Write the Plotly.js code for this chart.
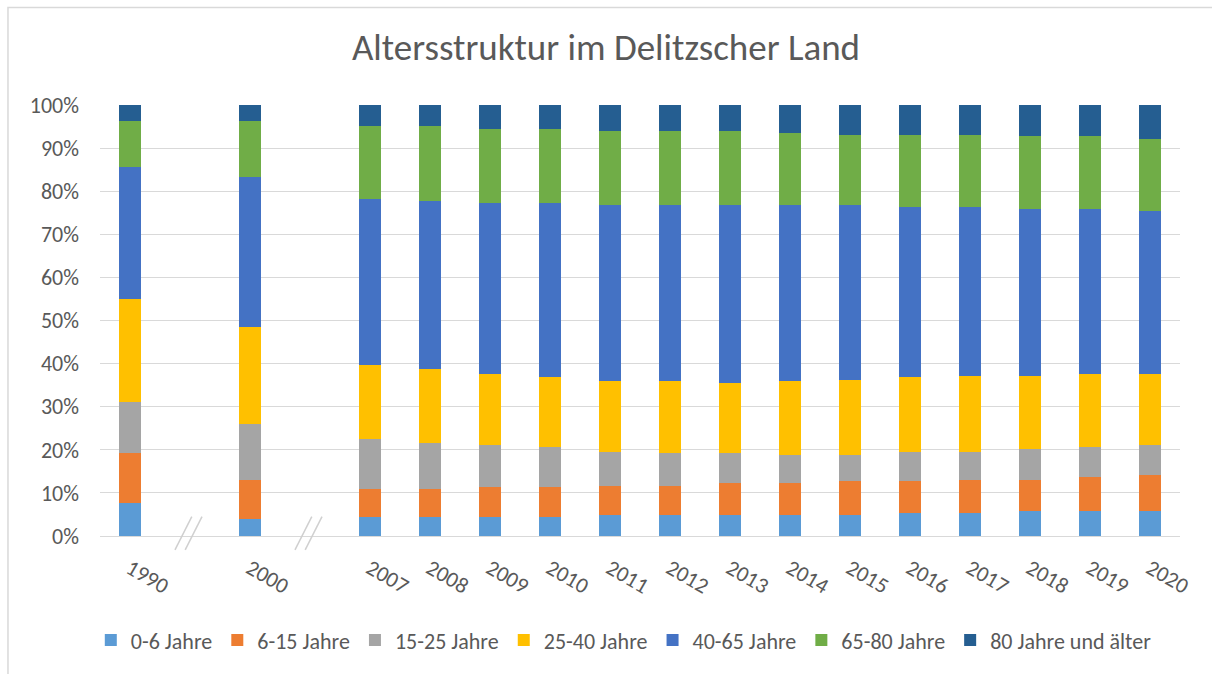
<!DOCTYPE html>
<html>
<head>
<meta charset="utf-8">
<script src="https://cdn.plot.ly/plotly-3.0.1.min.js"></script>
<style>
  html, body { margin: 0; padding: 0; background: #ffffff; }
  #chart { width: 1212px; height: 674px; }
</style>
</head>
<body>
<div id="chart"></div>
<script>
// ---- data (shares in %) ----
const categories = ['1990','2000','2007','2008','2009','2010','2011','2012','2013','2014','2015','2016','2017','2018','2019','2020'];
const breaksAfter = ['1990','2000'];   // axis breaks ("//") after these years

const seriesNames = ['0-6 Jahre','6-15 Jahre','15-25 Jahre','25-40 Jahre','40-65 Jahre','65-80 Jahre','80 Jahre und älter'];
const seriesColors = ['#5B9BD5','#ED7D31','#A5A5A5','#FFC000','#4472C4','#70AD47','#255E91'];

const age0_6   = [7.6, 3.9, 4.3, 4.3, 4.3, 4.3, 4.8, 4.8, 4.8, 4.8, 4.8, 5.3, 5.3, 5.7, 5.7, 5.7];
const age6_15  = [11.6, 9.2, 6.5, 6.5, 7.0, 7.0, 6.9, 6.9, 7.4, 7.4, 7.9, 7.4, 7.8, 7.4, 7.9, 8.4];
const age15_25 = [11.9, 13.0, 11.6, 10.7, 9.7, 9.3, 7.9, 7.5, 7.0, 6.5, 6.0, 6.9, 6.5, 7.0, 7.0, 6.9];
const age25_40 = [23.8, 22.3, 17.2, 17.2, 16.7, 16.2, 16.3, 16.7, 16.2, 17.2, 17.6, 17.2, 17.6, 17.1, 17.1, 16.7];
const age40_65 = [30.7, 34.9, 38.6, 39.0, 39.6, 40.5, 40.9, 40.9, 41.4, 40.9, 40.5, 39.6, 39.2, 38.7, 38.2, 37.7];
const age65_80 = [10.7, 13.0, 16.9, 17.4, 17.2, 17.2, 17.2, 17.2, 17.2, 16.8, 16.3, 16.7, 16.7, 16.8, 16.8, 16.8];
const age80p   = [3.7, 3.7, 4.9, 4.9, 5.5, 5.5, 6.0, 6.0, 6.0, 6.4, 6.9, 6.9, 6.9, 7.3, 7.3, 7.8];

const seriesValues = [age0_6, age6_15, age15_25, age25_40, age40_65, age65_80, age80p];

// ---- build axis slots (empty slots where the axis is broken) ----
const slots = [];
const breakSlots = [];
categories.forEach(c => {
  slots.push(c);
  if (breaksAfter.includes(c)) {
    const id = 'break_' + c;
    slots.push(id);
    breakSlots.push(id);
  }
});

const FONT = 'Calibri, Carlito, Lato, "Open Sans", sans-serif';
const TXT = '#595959';

const traces = seriesNames.map((name, i) => ({
  type: 'bar',
  name: name,
  x: categories,
  y: seriesValues[i],
  marker: { color: seriesColors[i], line: { width: 0 } },
  hoverinfo: 'x+y+name'
}));

// break marks "//" under the axis at the empty slots
const shapes = [];
breakSlots.forEach(id => {
  const idx = slots.indexOf(id);
  [[0.03, -0.25], [0.20, -0.08]].forEach(([top, bot]) => {
    shapes.push({
      type: 'line', xref: 'x', yref: 'paper',
      x0: idx + top, y0: 0.045, x1: idx + bot, y1: -0.032,
      line: { color: '#D0D0D0', width: 1.5 }
    });
  });
});
// chart-area border
shapes.push({
  type: 'rect', xref: 'paper', yref: 'paper',
  x0: -0.0852, x1: 1.05, y0: -0.5, y1: 1.226,
  line: { color: '#D9D9D9', width: 1.5 }, fillcolor: 'rgba(0,0,0,0)', layer: 'below'
});

const layout = {
  width: 1212, height: 674,
  margin: { l: 100, r: 32, t: 105, b: 138 },
  paper_bgcolor: '#ffffff', plot_bgcolor: '#ffffff',
  font: { family: FONT, color: TXT, size: 21 },
  title: {
    text: 'Altersstruktur im Delitzscher Land',
    x: 0.5, xref: 'container', xanchor: 'center',
    y: 0.93, yref: 'container', yanchor: 'middle',
    font: { family: FONT, size: 37, color: TXT }
  },
  barmode: 'stack',
  barnorm: 'percent',
  bargap: 0.63,
  showlegend: true,
  legend: {
    orientation: 'h', x: 0.485, xanchor: 'center', y: -0.242, yanchor: 'middle',
    font: { family: FONT, size: 22, color: TXT },
    traceorder: 'normal', itemwidth: 30
  },
  xaxis: {
    type: 'category',
    categoryorder: 'array', categoryarray: slots,
    range: [-0.5, slots.length - 0.5],
    tickmode: 'array', tickvals: categories, ticktext: categories,
    tickangle: 30,
    ticks: '', showgrid: false, ticklabelstandoff: 10,
    showline: true, linecolor: '#D9D9D9', linewidth: 1,
    tickfont: { family: FONT, size: 22, color: TXT },
    fixedrange: true
  },
  yaxis: {
    range: [0, 100], dtick: 10, ticksuffix: '%',
    showgrid: true, gridcolor: '#D9D9D9', gridwidth: 1,
    zeroline: false, showline: false, ticks: '', ticklabelstandoff: 20,
    tickfont: { family: FONT, size: 22, color: TXT },
    fixedrange: true
  },
  shapes: shapes
};

Plotly.newPlot('chart', traces, layout, { displayModeBar: false, staticPlot: true });
</script>
</body>
</html>
